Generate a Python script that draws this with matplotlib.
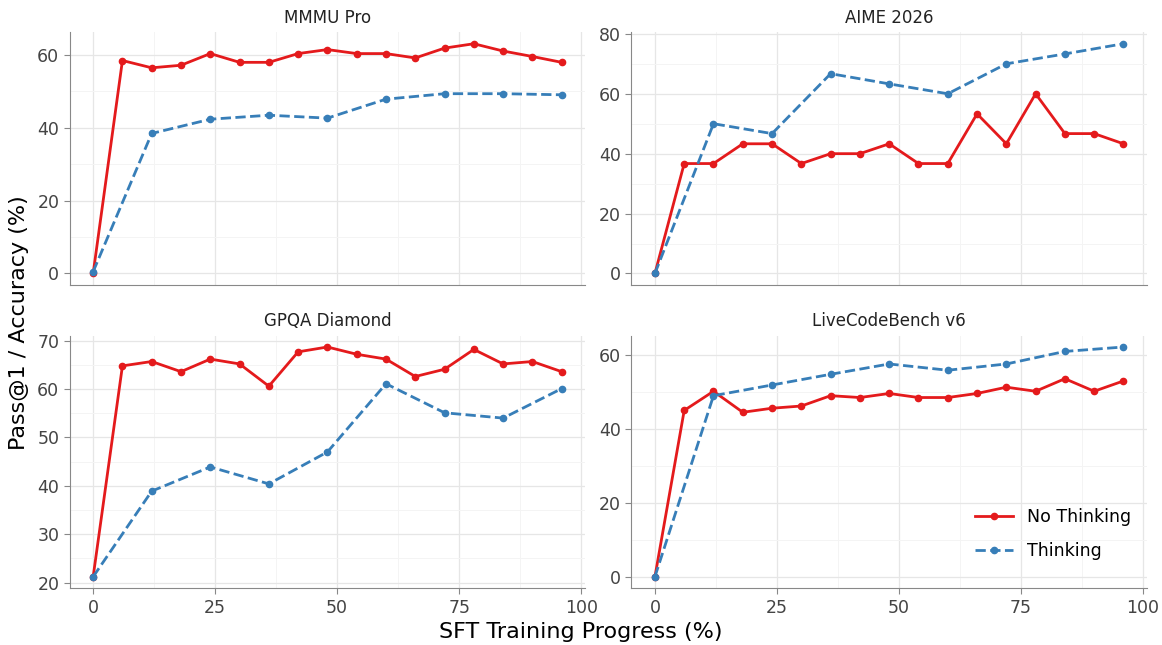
import numpy as np
import matplotlib
matplotlib.use("Agg")
import matplotlib.pyplot as plt
from matplotlib.ticker import AutoMinorLocator, MultipleLocator

# progress checkpoints (%)
x_no_think = [0, 6, 12, 18, 24, 30, 36, 42, 48, 54, 60, 66, 72, 78, 84, 90, 96]
x_think = [0, 12, 24, 36, 48, 60, 72, 84, 96]

titles = ["MMMU Pro", "AIME 2026", "GPQA Diamond", "LiveCodeBench v6"]

mmmu_no = [0, 58.4, 56.4, 57.1, 60.3, 57.9, 57.9, 60.3, 61.4, 60.3, 60.3, 59.1, 61.8, 63.0, 61.0, 59.5, 57.9]
mmmu_think = [0.5, 38.4, 42.3, 43.4, 42.6, 47.8, 49.3, 49.3, 49.0]

aime_no = [0, 36.7, 36.7, 43.3, 43.3, 36.7, 40.0, 40.0, 43.3, 36.7, 36.7, 53.3, 43.3, 60.0, 46.7, 46.7, 43.3]
aime_think = [0, 50.0, 46.7, 66.7, 63.3, 60.0, 70.0, 73.3, 76.7]

gpqa_no = [21.2, 64.8, 65.7, 63.6, 66.2, 65.2, 60.6, 67.7, 68.7, 67.2, 66.2, 62.6, 64.1, 68.2, 65.2, 65.7, 63.6]
gpqa_think = [21.2, 38.9, 43.9, 40.4, 47.0, 61.1, 55.1, 54.0, 60.1]

lcb_no = [0, 45.1, 50.3, 44.6, 45.7, 46.3, 49.1, 48.6, 49.7, 48.6, 48.6, 49.7, 51.4, 50.3, 53.7, 50.3, 53.1]
lcb_think = [0, 49.1, 52.0, 54.9, 57.7, 56.0, 57.7, 61.1, 62.3]

no_series = [mmmu_no, aime_no, gpqa_no, lcb_no]
think_series = [mmmu_think, aime_think, gpqa_think, lcb_think]
y_steps = [20, 20, 10, 20]

red = "#e41a1c"
blue = "#377eb8"

fig, axes = plt.subplots(2, 2, figsize=(11.62, 6.45), dpi=100, sharex=True)
fig.subplots_adjust(left=0.060, right=0.987, top=0.950, bottom=0.088, wspace=0.09, hspace=0.20)

for ax, title, yn, yt, step in zip(axes.flat, titles, no_series, think_series, y_steps):
    ax.plot(x_no_think, yn, color=red, lw=2, marker="o", ms=4.5, label="No Thinking", zorder=3)
    ax.plot(x_think, yt, color=blue, lw=2, ls="--", marker="o", ms=4.5, label="Thinking", zorder=3)
    ax.set_title(title, fontsize=12, color="#222222", pad=7)
    ax.yaxis.set_major_locator(MultipleLocator(step))
    ax.xaxis.set_minor_locator(AutoMinorLocator(2))
    ax.yaxis.set_minor_locator(AutoMinorLocator(2))
    ax.grid(which="major", color="#e6e6e6", lw=0.9)
    ax.grid(which="minor", color="#f4f4f4", lw=0.7)
    ax.set_axisbelow(True)
    for s in ["top", "right"]:
        ax.spines[s].set_visible(False)
    for s in ["left", "bottom"]:
        ax.spines[s].set_color("#888888")
    ax.tick_params(which="major", labelsize=12.5, colors="#444444", length=4, color="#888888")
    ax.tick_params(which="minor", length=0)
    ax.set_xticks([0, 25, 50, 75, 100])

for ax in axes[0]:
    ax.tick_params(axis="x", which="major", length=0)

axes[1, 1].legend(loc="lower right", frameon=False, fontsize=12.5, handlelength=2.2,
                  labelspacing=0.9, bbox_to_anchor=(1.0, 0.05))

fig.supylabel("Pass@1 / Accuracy (%)", fontsize=16, x=0.008)
fig.supxlabel("SFT Training Progress (%)", fontsize=16, y=0.005)

fig.savefig("out.png", dpi=100)
